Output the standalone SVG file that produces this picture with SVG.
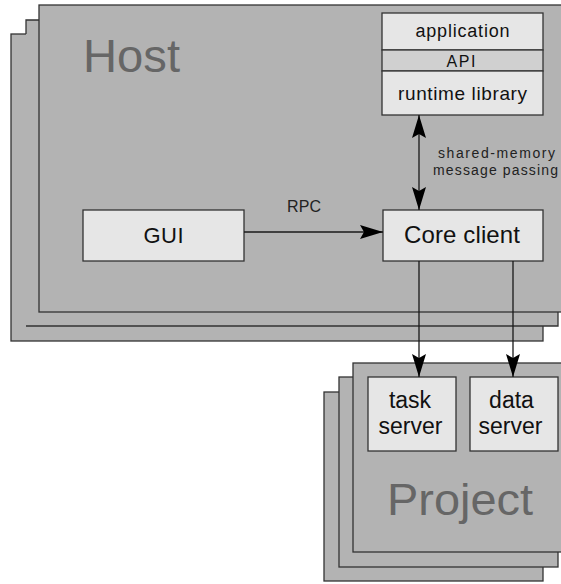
<svg xmlns="http://www.w3.org/2000/svg" width="561" height="584" viewBox="0 0 561 584">
<defs>
<style>
.bg{fill:#b3b3b3;stroke:#333;stroke-width:1.3}
.bgf{fill:#b3b3b3;stroke:none}
.edge{fill:none;stroke:#333;stroke-width:1.3}
.box{fill:#e6e6e6;stroke:#333;stroke-width:1.3}
.api{fill:#d0d0d0;stroke:#333;stroke-width:1.3}
.big{font-family:"Liberation Sans",Arial,sans-serif;fill:#666}
.t{font-family:"Liberation Sans",Arial,sans-serif;fill:#111;text-anchor:middle}
.lbl{font-family:"Liberation Sans",Arial,sans-serif;fill:#222}
.con{fill:none;stroke:#1a1a1a;stroke-width:1.3}
</style>
<marker id="ah" markerUnits="userSpaceOnUse" markerWidth="24" markerHeight="16" viewBox="0 0 24 16" refX="23" refY="8" orient="auto-start-reverse">
<path d="M0,1 L23,8 L0,15 L4,8 Z" fill="#000"/>
</marker>
</defs>

<g id="host-stack">
<rect class="bg" x="11" y="34" width="532" height="307"/>
<rect class="bgf" x="26" y="20" width="532" height="306"/>
<path class="edge" d="M26,34 V20 H39 M26,326 H558 V312"/>
<rect class="bg" x="39" y="5" width="540" height="307"/>
<text class="big" x="83" y="72" font-size="47" textLength="97" lengthAdjust="spacingAndGlyphs">Host</text>
</g>

<g id="project-stack">
<rect class="bg" x="324" y="392" width="219" height="189"/>
<rect class="bg" x="339" y="377" width="219" height="190"/>
<rect class="bg" x="353" y="363" width="225" height="189"/>
<text class="big" x="387" y="515" font-size="44" textLength="146" lengthAdjust="spacingAndGlyphs">Project</text>
</g>

<g id="app-stack">
<rect class="box" x="382" y="13" width="161" height="37"/>
<text class="t" x="462.5" y="37" font-size="18" textLength="94" lengthAdjust="spacing">application</text>
<rect class="api" x="382" y="50" width="161" height="21"/>
<text class="t" x="461" y="66.5" font-size="16" textLength="29" lengthAdjust="spacing">API</text>
<rect class="box" x="382" y="71" width="161" height="44"/>
<text class="t" x="462.5" y="100" font-size="19" textLength="129" lengthAdjust="spacing">runtime library</text>
</g>

<g id="gui">
<rect class="box" x="83" y="210" width="161" height="51"/>
<text class="t" x="163.5" y="243" font-size="22" textLength="40" lengthAdjust="spacing">GUI</text>
</g>

<g id="core-client">
<rect class="box" x="383" y="210" width="160" height="51"/>
<text class="t" x="462" y="243" font-size="24" textLength="116" lengthAdjust="spacing">Core client</text>
</g>

<g id="task-server">
<rect class="box" x="368" y="377" width="88" height="74"/>
<text class="t" x="410" y="408" font-size="23">task</text>
<text class="t" x="410.5" y="434" font-size="23">server</text>
</g>

<g id="data-server">
<rect class="box" x="470" y="377" width="88" height="74"/>
<text class="t" x="511.5" y="408" font-size="23">data</text>
<text class="t" x="510.5" y="434" font-size="23">server</text>
</g>

<g id="connectors">
<line class="con" x1="419" y1="115" x2="419" y2="210" marker-start="url(#ah)" marker-end="url(#ah)"/>
<line class="con" x1="244" y1="232" x2="383" y2="232" marker-end="url(#ah)"/>
<line class="con" x1="419" y1="261" x2="419" y2="377" marker-end="url(#ah)"/>
<line class="con" x1="513" y1="261" x2="513" y2="377" marker-end="url(#ah)"/>
<text class="lbl" x="287" y="212" font-size="16" textLength="34" lengthAdjust="spacing">RPC</text>
<text class="lbl" x="438" y="158" font-size="14" textLength="117" lengthAdjust="spacing">shared-memory</text>
<text class="lbl" x="433" y="175" font-size="14" textLength="125" lengthAdjust="spacing">message passing</text>
</g>
</svg>
